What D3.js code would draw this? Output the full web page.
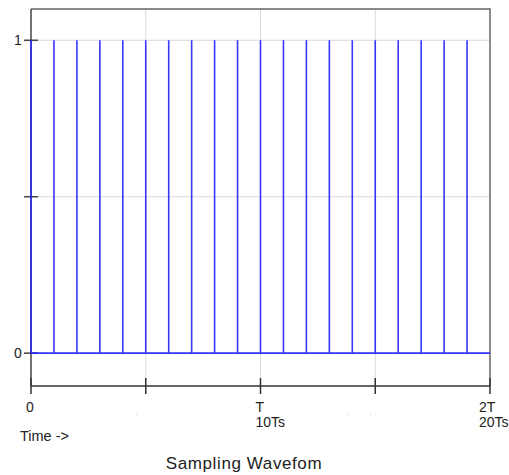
<!DOCTYPE html>
<html>
<head>
<meta charset="utf-8">
<script src="https://cdn.jsdelivr.net/npm/d3@7"></script>
<style>
  html, body { margin: 0; padding: 0; background: #fff; }
  svg { display: block; font-family: "Liberation Sans", Arial, sans-serif; }
</style>
</head>
<body>
<svg id="chart" width="509" height="475"></svg>
<script>
// ---- data ----
const sampleTimes = [0, 1, 2, 3, 4, 5, 6, 7, 8, 9, 10, 11, 12, 13, 14, 15, 16, 17, 18, 19]; // in Ts
const sampleValues = [1, 1, 1, 1, 1, 1, 1, 1, 1, 1, 1, 1, 1, 1, 1, 1, 1, 1, 1, 1];
const xTickValues = [0, 5, 10, 15, 20];
const xTickLabels = [["0"], [""], ["T", "10Ts"], [""], ["2T", "20Ts"]];
const xStrayMarks = [4.6, 13.8, 14.8];
const yTickValues = [0, 0.5, 1];
const yTickLabels = ["0", "", "1"];
const xDomain = [0, 20];
const yDomain = [-0.105, 1.1];
const xAxisTitle = "Time ->";
const chartTitle = "Sampling Wavefom";

// ---- layout ----
const svg = d3.select("#chart");
const L = 31, R = 490, T = 9, B = 386;
const x = d3.scaleLinear().domain(xDomain).range([L, R]);
const y = d3.scaleLinear().domain(yDomain).range([B, T]);

// grid
const g = svg.append("g");
g.selectAll("line.vg").data(xTickValues.filter(v => v > xDomain[0] && v < xDomain[1]))
  .join("line").attr("class", "vg")
  .attr("x1", d => x(d)).attr("x2", d => x(d))
  .attr("y1", T).attr("y2", B)
  .attr("stroke", "#d9d9d9").attr("stroke-width", 1);
g.selectAll("line.hg").data(yTickValues)
  .join("line").attr("class", "hg")
  .attr("x1", L).attr("x2", R)
  .attr("y1", d => y(d)).attr("y2", d => y(d))
  .attr("stroke", "#d9d9d9").attr("stroke-width", 1);

// frame (top and right)
svg.append("path")
  .attr("d", `M${L},${y(yDomain[1])}H${x(xDomain[1])}V${B}`)
  .attr("fill", "none").attr("stroke", "#666").attr("stroke-width", 1.5);

// y axis
const yAxis = d3.axisLeft(y).tickValues(yTickValues).tickSize(0).tickFormat("");
const ya = svg.append("g").attr("transform", `translate(${L},0)`).call(yAxis);
ya.select(".domain").remove();
svg.append("line").attr("x1", L).attr("x2", L).attr("y1", T).attr("y2", B)
  .attr("stroke", "#444").attr("stroke-width", 1.5);
svg.selectAll("line.yt").data(yTickValues).join("line").attr("class", "yt")
  .attr("x1", L - 7).attr("x2", L + 7)
  .attr("y1", d => y(d)).attr("y2", d => y(d))
  .attr("stroke", "#444").attr("stroke-width", 1.5);
svg.selectAll("text.yl").data(yTickValues).join("text").attr("class", "yl")
  .attr("x", 18).attr("y", d => y(d)).attr("dy", "0.36em")
  .attr("text-anchor", "middle").attr("font-size", 14).attr("fill", "#222")
  .text((d, i) => yTickLabels[i]);

// x axis
const xAxis = d3.axisBottom(x).tickValues(xTickValues).tickSize(0).tickFormat("");
const xa = svg.append("g").attr("transform", `translate(0,${B})`).call(xAxis);
xa.select(".domain").remove();
svg.append("line").attr("x1", L).attr("x2", R).attr("y1", B).attr("y2", B)
  .attr("stroke", "#333").attr("stroke-width", 1.5);
svg.selectAll("line.xt").data(xTickValues).join("line").attr("class", "xt")
  .attr("x1", d => x(d)).attr("x2", d => x(d))
  .attr("y1", B - 8).attr("y2", B + 8)
  .attr("stroke", "#333").attr("stroke-width", 1.5);
const lastIdx = xTickValues.length - 1;
const xl = svg.selectAll("text.xl").data(xTickValues).join("text").attr("class", "xl")
  .attr("font-size", 14).attr("fill", "#222")
  .attr("transform", (d, i) => `translate(${x(d) + (i === lastIdx ? -11 : -5)},${B + 26})`);
xl.each(function(d, i) {
  const el = d3.select(this);
  xTickLabels[i].forEach((s, j) => {
    el.append("tspan").attr("x", 0).attr("y", j * 15).text(s);
  });
});
svg.selectAll("text.stray").data(xStrayMarks).join("text").attr("class", "stray")
  .attr("x", d => x(d)).attr("y", B + 29).attr("font-size", 8).attr("fill", "#aaa")
  .attr("text-anchor", "middle").text(".");

// waveform (drawn over the axes)
const pts = [[xDomain[0], 0]];
sampleTimes.forEach((t, i) => { pts.push([t, 0], [t, sampleValues[i]], [t, 0]); });
pts.push([xDomain[1], 0]);
const line = d3.line().x(d => x(d[0])).y(d => y(d[1]));
svg.append("path").attr("d", line(pts))
  .attr("fill", "none").attr("stroke", "#2020ff").attr("stroke-width", 1.6)
  .attr("stroke-opacity", 0.9);

// titles
svg.append("text").attr("x", 20).attr("y", 441).attr("font-size", 14.5).attr("fill", "#222")
  .text(xAxisTitle);
svg.append("text").attr("x", 244).attr("y", 469).attr("text-anchor", "middle")
  .attr("font-size", 17).attr("letter-spacing", 0.6).attr("fill", "#222")
  .text(chartTitle);
</script>
</body>
</html>
